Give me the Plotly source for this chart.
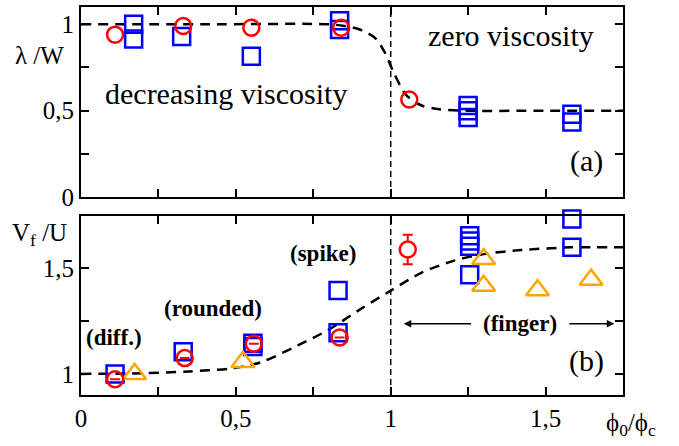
import plotly.graph_objects as go

# ---------------- data ----------------
# panel (a): lambda / W
circ_a_x = [0.11, 0.33, 0.55, 0.84, 1.06]
circ_a_y = [0.94, 0.99, 0.98, 0.98, 0.565]
sq_a_x = [0.17, 0.17, 0.325, 0.55, 0.835, 0.835, 1.25, 1.25, 1.25, 1.585, 1.585]
sq_a_y = [1.0, 0.915, 0.93, 0.815, 1.02, 0.97, 0.53, 0.50, 0.46, 0.48, 0.435]
fit_a_x = [0.0, 0.40, 0.80, 0.85, 0.90, 0.95, 0.98, 1.01, 1.05, 1.10, 1.15, 1.25, 1.50, 1.75]
fit_a_y = [1.0, 1.0, 1.0, 0.99, 0.97, 0.92, 0.84, 0.72, 0.59, 0.53, 0.51, 0.50, 0.50, 0.50]

# panel (b): V_f / U
circ_b_x = [0.11, 0.335, 0.558, 0.835, 1.055]
circ_b_y = [0.975, 1.075, 1.143, 1.173, 1.59]
circ_b_err = [0, 0, 0, 0, 0.07]
sq_b_x = [0.11, 0.33, 0.555, 0.555, 0.83, 0.83, 1.255, 1.255, 1.255, 1.255, 1.585, 1.585]
sq_b_y = [1.0, 1.105, 1.145, 1.13, 1.395, 1.195, 1.655, 1.63, 1.605, 1.47, 1.735, 1.6]
tri_b_x = [0.173, 0.523, 1.30, 1.30, 1.474, 1.647]
tri_b_y = [1.0, 1.057, 1.545, 1.418, 1.397, 1.447]
fit_b_x = [0.0, 0.20, 0.35, 0.48, 0.58, 0.70, 0.80, 0.90, 1.00, 1.10, 1.20, 1.30, 1.42, 1.58, 1.75]
fit_b_y = [1.0, 1.003, 1.012, 1.025, 1.055, 1.135, 1.21, 1.305, 1.395, 1.48, 1.535, 1.568, 1.587, 1.60, 1.60]

# ticks
x_tickvals = [0, 0.25, 0.5, 0.75, 1.0, 1.25, 1.5, 1.75]
x_ticktext = ["0", "", "0,5", "", "1", "", "1,5", ""]
ya_tickvals = [0, 0.25, 0.5, 0.75, 1.0]
ya_ticktext = ["0", "", "0,5", "", "1"]
yb_tickvals = [1.0, 1.25, 1.5, 1.75]
yb_ticktext = ["1", "", "1,5", ""]

FONT = "Liberation Serif, Times New Roman, Times, DejaVu Serif, serif"
RED = "#ff0000"
BLUE = "#0000ff"
ORANGE = "#ffa500"

fig = go.Figure()

# fits
fig.add_trace(go.Scatter(x=fit_a_x, y=fit_a_y, mode="lines", line=dict(color="black", width=2.5, dash="10px,7px", shape="spline", smoothing=0.8), xaxis="x", yaxis="y", hoverinfo="skip"))
fig.add_trace(go.Scatter(x=fit_b_x, y=fit_b_y, mode="lines", line=dict(color="black", width=2.5, dash="10px,7px", shape="spline", smoothing=0.8), xaxis="x2", yaxis="y2", hoverinfo="skip"))

# panel a markers
fig.add_trace(go.Scatter(x=sq_a_x, y=sq_a_y, mode="markers", cliponaxis=False, marker=dict(symbol="square-open", size=17, line=dict(color=BLUE, width=2.5), color=BLUE), xaxis="x", yaxis="y"))
fig.add_trace(go.Scatter(x=circ_a_x, y=circ_a_y, mode="markers", cliponaxis=False, marker=dict(symbol="circle-open", size=16, line=dict(color=RED, width=2.5), color=RED), xaxis="x", yaxis="y"))

# panel b markers
fig.add_trace(go.Scatter(x=sq_b_x, y=sq_b_y, mode="markers", cliponaxis=False, marker=dict(symbol="square-open", size=17, line=dict(color=BLUE, width=2.5), color=BLUE), xaxis="x2", yaxis="y2"))
fig.add_trace(go.Scatter(x=tri_b_x, y=tri_b_y, mode="markers", cliponaxis=False, marker=dict(symbol="triangle-up-open", size=20, line=dict(color=ORANGE, width=2.5), color=ORANGE), xaxis="x2", yaxis="y2"))
fill_b = ["rgba(255,255,255,1)" if e > 0 else "rgba(0,0,0,0)" for e in circ_b_err]
fig.add_trace(go.Scatter(x=circ_b_x, y=circ_b_y, mode="markers", cliponaxis=False,
                         error_y=dict(type="data", array=circ_b_err, visible=True, color=RED, thickness=2, width=5),
                         marker=dict(symbol="circle", size=16, color=fill_b, line=dict(color=RED, width=2.5)),
                         xaxis="x2", yaxis="y2"))

axis_common = dict(showline=True, linecolor="black", linewidth=2, mirror="ticks", ticks="inside",
                   ticklen=8, tickwidth=1.5, tickcolor="black", showgrid=False, zeroline=False,
                   tickfont=dict(family=FONT, size=25, color="black"))

fig.update_layout(
    width=679, height=446,
    margin=dict(l=81, r=56, t=5, b=51),
    paper_bgcolor="white", plot_bgcolor="white",
    showlegend=False,
    font=dict(family=FONT, color="black"),
    xaxis=dict(domain=[0, 1], anchor="y", range=[0, 1.75], tickvals=x_tickvals, ticktext=[""] * len(x_tickvals), **axis_common),
    yaxis=dict(domain=[0.51, 1], anchor="x", range=[0, 1.1], tickvals=ya_tickvals, ticktext=ya_ticktext, **axis_common),
    xaxis2=dict(domain=[0, 1], anchor="y2", range=[0, 1.75], tickvals=x_tickvals, ticktext=x_ticktext, **axis_common),
    yaxis2=dict(domain=[0, 0.462], anchor="x2", range=[0.9, 1.75], tickvals=yb_tickvals, ticktext=yb_ticktext, **axis_common),
)

# vertical dashed lines at phi0/phic = 1
for xr, yr in (("x", "y domain"), ("x2", "y2 domain")):
    fig.add_shape(type="line", xref=xr, yref=yr, x0=1, x1=1, y0=0, y1=1, line=dict(color="black", width=1.5, dash="6px,4px"))

big = dict(family=FONT, size=30, color="black")
bold = dict(family=FONT, size=23, color="black")
ann = [
    dict(text="decreasing viscosity", x=0.469, y=0.60, xref="x", yref="y", font=big),
    dict(text="zero viscosity", x=1.388, y=0.935, xref="x", yref="y", font=big),
    dict(text="(a)", x=1.632, y=0.21, xref="x", yref="y", font=big),
    dict(text="(b)", x=1.632, y=1.06, xref="x2", yref="y2", font=big),
    dict(text="<b>(diff.)</b>", x=0.107, y=1.175, xref="x2", yref="y2", font=bold),
    dict(text="<b>(rounded)</b>", x=0.426, y=1.31, xref="x2", yref="y2", font=bold),
    dict(text="<b>(spike)</b>", x=0.78, y=1.569, xref="x2", yref="y2", font=bold),
    dict(text="<b>(finger)</b>", x=1.417, y=1.238, xref="x2", yref="y2", font=bold),
]
for a in ann:
    fig.add_annotation(showarrow=False, xanchor="center", yanchor="middle", **a)

# arrows around (finger)
fig.add_annotation(x=1.042, y=1.238, ax=1.264, ay=1.238, xref="x2", yref="y2", axref="x2", ayref="y2",
                   text="", showarrow=True, arrowhead=2, arrowsize=1, arrowwidth=1.5, arrowcolor="black")
fig.add_annotation(x=1.722, y=1.238, ax=1.572, ay=1.238, xref="x2", yref="y2", axref="x2", ayref="y2",
                   text="", showarrow=True, arrowhead=2, arrowsize=1, arrowwidth=1.5, arrowcolor="black")

# axis titles (positions in pixels, converted to paper coords below)
title_font = dict(family=FONT, size=25, color="black")
fig.add_annotation(text="λ /W", x=39, y=54, xref="paper", yref="paper", showarrow=False, font=title_font)
fig.add_annotation(text="V<sub>f</sub> /U", x=39, y=234, xref="paper", yref="paper", showarrow=False, font=title_font)
fig.add_annotation(text="ϕ<sub>0</sub>/ϕ<sub>c</sub>", x=631, y=425, xref="paper", yref="paper", showarrow=False, font=title_font)

W, H = 679, 446
L, R, T, B = 81, 56, 5, 51
pw, ph = W - L - R, H - T - B
for a in fig.layout.annotations[-3:]:
    a.x = (a.x - L) / pw
    a.y = (H - B - a.y) / ph
    a.xanchor = "center"
    a.yanchor = "middle"

fig.write_html("out.html", config={"displayModeBar": False},
               post_script="document.body.style.margin='0';document.body.style.padding='0';")
